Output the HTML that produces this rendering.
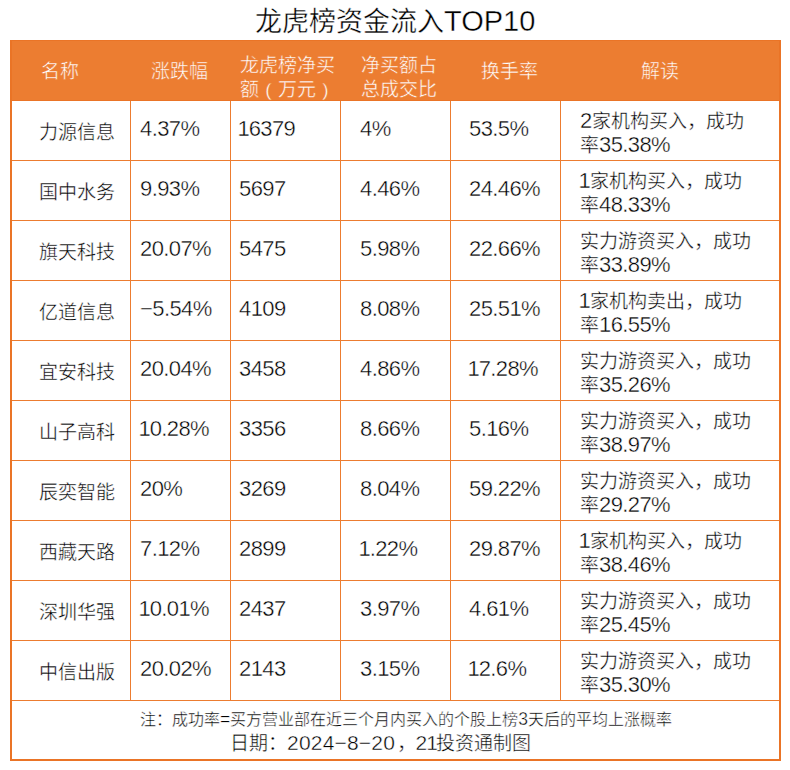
<!DOCTYPE html><html lang="zh-CN"><head><meta charset="utf-8"><style>
*{margin:0;padding:0;box-sizing:border-box}
html,body{width:790px;height:770px;background:#fff;overflow:hidden}
body{position:relative;font-family:"Liberation Sans",sans-serif;color:#000}
.t{position:absolute;white-space:nowrap;-webkit-text-stroke:0.4px #fff;font-size:19px;line-height:24px}
.d{font-size:22px;letter-spacing:-0.6px;line-height:0;position:relative;top:0px}
.p{display:inline-block;width:19px;text-align:center}
.f1{font-size:17.5px}
.f2{font-size:21px}
.w{color:#fff;-webkit-text-stroke:0.4px #EC7D31}
.h{position:absolute;background:#EC7C30}
</style></head><body>
<div class="t" style="left:255px;top:5px;font-size:27px;line-height:32px">龙虎榜资金流入<span style="font-size:29px">TOP10</span></div>
<div style="position:absolute;left:10px;top:40px;width:771px;height:61px;background:#EC7D31"></div>
<div style="position:absolute;left:10px;top:40px;width:771px;height:721px;border:2px solid #EA7426;border-top-width:1px"></div>
<div class="h" style="left:10px;top:100px;width:771px;height:1px;background:#EA7426"></div>
<div class="h" style="left:12px;top:160px;width:767px;height:1px"></div>
<div class="h" style="left:12px;top:220px;width:767px;height:1px"></div>
<div class="h" style="left:12px;top:280px;width:767px;height:1px"></div>
<div class="h" style="left:12px;top:340px;width:767px;height:1px"></div>
<div class="h" style="left:12px;top:400px;width:767px;height:1px"></div>
<div class="h" style="left:12px;top:460px;width:767px;height:1px"></div>
<div class="h" style="left:12px;top:520px;width:767px;height:1px"></div>
<div class="h" style="left:12px;top:580px;width:767px;height:1px"></div>
<div class="h" style="left:12px;top:640px;width:767px;height:1px"></div>
<div class="h" style="left:12px;top:700px;width:767px;height:1px"></div>
<div class="h" style="left:130px;top:101px;width:1px;height:599px"></div>
<div class="h" style="left:230px;top:101px;width:1px;height:599px"></div>
<div class="h" style="left:340px;top:101px;width:1px;height:599px"></div>
<div class="h" style="left:450px;top:101px;width:1px;height:599px"></div>
<div class="h" style="left:560px;top:101px;width:1px;height:599px"></div>
<div class="t w" style="left:41px;top:60px">名称</div>
<div class="t w" style="left:151px;top:60px">涨跌幅</div>
<div class="t w" style="left:240px;top:54px">龙虎榜净买<br>额<span class="p">(</span>万元<span class="p">)</span></div>
<div class="t w" style="left:361px;top:54px">净买额占<br>总成交比</div>
<div class="t w" style="left:481px;top:60px">换手率</div>
<div class="t w" style="left:641px;top:60px">解读</div>
<div class="t" style="left:39px;top:121px">力源信息</div>
<div class="t" style="left:140px;top:117.5px"><span class="d">4.37%</span></div>
<div class="t" style="left:239px;top:117.5px"><span class="d"><span style="margin-left:-1.5px;margin-right:-0.5px">1</span>6379</span></div>
<div class="t" style="left:360px;top:117.5px"><span class="d">4%</span></div>
<div class="t" style="left:469px;top:117.5px"><span class="d">53.5%</span></div>
<div class="t" style="left:580px;top:110px"><span class="d">2</span>家机构买入，成功<br>率<span class="d">35.38%</span></div>
<div class="t" style="left:39px;top:181px">国中水务</div>
<div class="t" style="left:140px;top:177.5px"><span class="d">9.93%</span></div>
<div class="t" style="left:239px;top:177.5px"><span class="d">5697</span></div>
<div class="t" style="left:360px;top:177.5px"><span class="d">4.46%</span></div>
<div class="t" style="left:469px;top:177.5px"><span class="d">24.46%</span></div>
<div class="t" style="left:580px;top:170px"><span class="d"><span style="margin-left:-1.5px;margin-right:-0.5px">1</span></span>家机构买入，成功<br>率<span class="d">48.33%</span></div>
<div class="t" style="left:39px;top:241px">旗天科技</div>
<div class="t" style="left:140px;top:237.5px"><span class="d">20.07%</span></div>
<div class="t" style="left:239px;top:237.5px"><span class="d">5475</span></div>
<div class="t" style="left:360px;top:237.5px"><span class="d">5.98%</span></div>
<div class="t" style="left:469px;top:237.5px"><span class="d">22.66%</span></div>
<div class="t" style="left:580px;top:230px">实力游资买入，成功<br>率<span class="d">33.89%</span></div>
<div class="t" style="left:39px;top:301px">亿道信息</div>
<div class="t" style="left:140px;top:297.5px"><span class="d">−5.54%</span></div>
<div class="t" style="left:239px;top:297.5px"><span class="d">4109</span></div>
<div class="t" style="left:360px;top:297.5px"><span class="d">8.08%</span></div>
<div class="t" style="left:469px;top:297.5px"><span class="d">25.51%</span></div>
<div class="t" style="left:580px;top:290px"><span class="d"><span style="margin-left:-1.5px;margin-right:-0.5px">1</span></span>家机构卖出，成功<br>率<span class="d">16.55%</span></div>
<div class="t" style="left:39px;top:361px">宜安科技</div>
<div class="t" style="left:140px;top:357.5px"><span class="d">20.04%</span></div>
<div class="t" style="left:239px;top:357.5px"><span class="d">3458</span></div>
<div class="t" style="left:360px;top:357.5px"><span class="d">4.86%</span></div>
<div class="t" style="left:469px;top:357.5px"><span class="d"><span style="margin-left:-1.5px;margin-right:-0.5px">1</span>7.28%</span></div>
<div class="t" style="left:580px;top:350px">实力游资买入，成功<br>率<span class="d">35.26%</span></div>
<div class="t" style="left:39px;top:421px">山子高科</div>
<div class="t" style="left:140px;top:417.5px"><span class="d"><span style="margin-left:-1.5px;margin-right:-0.5px">1</span>0.28%</span></div>
<div class="t" style="left:239px;top:417.5px"><span class="d">3356</span></div>
<div class="t" style="left:360px;top:417.5px"><span class="d">8.66%</span></div>
<div class="t" style="left:469px;top:417.5px"><span class="d">5.16%</span></div>
<div class="t" style="left:580px;top:410px">实力游资买入，成功<br>率<span class="d">38.97%</span></div>
<div class="t" style="left:39px;top:481px">辰奕智能</div>
<div class="t" style="left:140px;top:477.5px"><span class="d">20%</span></div>
<div class="t" style="left:239px;top:477.5px"><span class="d">3269</span></div>
<div class="t" style="left:360px;top:477.5px"><span class="d">8.04%</span></div>
<div class="t" style="left:469px;top:477.5px"><span class="d">59.22%</span></div>
<div class="t" style="left:580px;top:470px">实力游资买入，成功<br>率<span class="d">29.27%</span></div>
<div class="t" style="left:39px;top:541px">西藏天路</div>
<div class="t" style="left:140px;top:537.5px"><span class="d">7.12%</span></div>
<div class="t" style="left:239px;top:537.5px"><span class="d">2899</span></div>
<div class="t" style="left:360px;top:537.5px"><span class="d"><span style="margin-left:-1.5px;margin-right:-0.5px">1</span>.22%</span></div>
<div class="t" style="left:469px;top:537.5px"><span class="d">29.87%</span></div>
<div class="t" style="left:580px;top:530px"><span class="d"><span style="margin-left:-1.5px;margin-right:-0.5px">1</span></span>家机构买入，成功<br>率<span class="d">38.46%</span></div>
<div class="t" style="left:39px;top:601px">深圳华强</div>
<div class="t" style="left:140px;top:597.5px"><span class="d"><span style="margin-left:-1.5px;margin-right:-0.5px">1</span>0.01%</span></div>
<div class="t" style="left:239px;top:597.5px"><span class="d">2437</span></div>
<div class="t" style="left:360px;top:597.5px"><span class="d">3.97%</span></div>
<div class="t" style="left:469px;top:597.5px"><span class="d">4.61%</span></div>
<div class="t" style="left:580px;top:590px">实力游资买入，成功<br>率<span class="d">25.45%</span></div>
<div class="t" style="left:39px;top:661px">中信出版</div>
<div class="t" style="left:140px;top:657.5px"><span class="d">20.02%</span></div>
<div class="t" style="left:239px;top:657.5px"><span class="d">2143</span></div>
<div class="t" style="left:360px;top:657.5px"><span class="d">3.15%</span></div>
<div class="t" style="left:469px;top:657.5px"><span class="d"><span style="margin-left:-1.5px;margin-right:-0.5px">1</span>2.6%</span></div>
<div class="t" style="left:580px;top:650px">实力游资买入，成功<br>率<span class="d">35.30%</span></div>
<div class="t" style="left:140px;top:708px;font-size:16px;line-height:22px">注：成功率<span class="f1">=</span>买方营业部在近三个月内买入的个股上榜<span class="f1">3</span>天后的平均上涨概率</div>
<div class="t" style="left:230px;top:731px;font-size:19px;line-height:24px">日期：<span class="f2" style="letter-spacing:0.2px;margin-right:1.5px">2024−8−20</span>，<span class="f2" style="display:inline-block;width:20px;letter-spacing:-1px">21</span>投资通制图</div>
</body></html>
